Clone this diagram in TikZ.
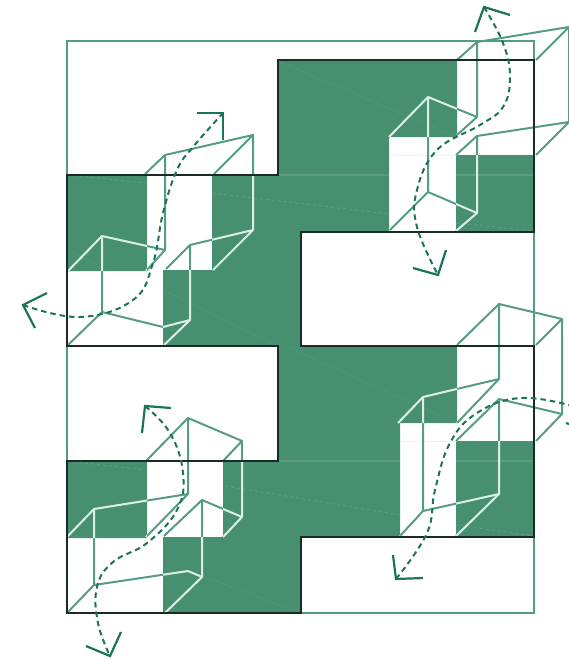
\documentclass[tikz,border=0pt]{standalone}
\usepackage{tikz}
\definecolor{leaf}{HTML}{46906F}
\definecolor{leafline}{HTML}{559C80}
\definecolor{leafpale}{HTML}{DCEDE5}
\definecolor{leafdark}{HTML}{1B7456}
\definecolor{edgeblack}{HTML}{1A2A24}
\newcommand{\floorplan}{(278,60) -- (534,60) -- (534,232) -- (301,232) -- (301,346) -- (534,346) -- (534,537) -- (301,537) -- (301,613) -- (67,613) -- (67,461) -- (278,461) -- (278,346) -- (67,346) -- (67,175) -- (278,175) -- cycle}
\newcommand{\openings}{
  (147,175) -- (212,175) -- (212,270) -- (163,270) -- (163,345) -- (67,345) -- (67,271) -- (147,271) -- cycle
  (457,60) -- (534,60) -- (534,155) -- (456,155) -- (456,231) -- (389,231) -- (389,137) -- (457,137) -- cycle
  (147,461) -- (223,461) -- (223,537) -- (163,537) -- (163,613) -- (67,613) -- (67,538) -- (147,538) -- cycle
  (457,346) -- (534,346) -- (534,441) -- (456,441) -- (456,536) -- (400,536) -- (400,423) -- (457,423) -- cycle}
\newcommand{\cubes}{
  (145,174) -- (165,155) -- (253,135) -- (214,174) (253,135) -- (253,230) -- (190,245) -- (166,269)
  (253,230) -- (213,270) (190,245) -- (190,320) -- (164,345) (165,155) -- (165,250) -- (102,236) -- (68,271)
  (165,250) -- (146,271) (102,236) -- (102,312) -- (68,345) (102,312) -- (163,327) -- (190,320)
  (457,60) -- (477,42) -- (569,27) -- (536,60) (569,27) -- (569,122) -- (477,136) -- (456,155)
  (569,122) -- (536,155) (477,136) -- (477,213) -- (456,231) (477,42) -- (477,117) -- (428,97) -- (389,137)
  (477,117) -- (457,135) (428,97) -- (428,192) -- (390,230) (428,192) -- (477,213)
  (146,461) -- (188,418) -- (242,441) -- (223,461) (242,441) -- (242,517) -- (202,500) -- (164,536)
  (242,517) -- (223,537) (202,500) -- (202,577) -- (165,613) (188,418) -- (188,494) -- (94,509) -- (67,537)
  (188,494) -- (146,537) (94,509) -- (94,585) -- (67,613) (94,585) -- (188,571) -- (202,577)
  (457,345) -- (499,304) -- (562,319) -- (536,345) (562,319) -- (562,414) -- (499,399) -- (456,441)
  (562,414) -- (536,441) (499,399) -- (499,494) -- (456,536) (499,304) -- (499,379) -- (423,397) -- (398,423)
  (499,379) -- (457,423) (423,397) -- (423,511) -- (400,536) (423,511) -- (499,494)}
\begin{document}
\begin{tikzpicture}[
  x=1pt,y=-1pt,
  frame/.style={draw=leafline,line width=2.2pt},
  outline/.style={draw=edgeblack,line width=2.2pt,line join=miter},
  wire/.style={draw=leafline,line width=2pt,line join=round},
  wirepale/.style={draw=leafpale,line width=2pt,line join=round},
  faint/.style={draw=white,opacity=.12,line width=1pt},
  route/.style={draw=leafdark,line width=2pt,dash pattern=on 5.5pt off 4pt},
  barb/.style={draw=leafdark,line width=2.2pt,line join=miter}
]
\useasboundingbox (0,0) rectangle (569,659);

\draw[frame] (67,41) rectangle (534,613);
\fill[leaf,even odd rule] \floorplan \openings;
\draw[wire] \cubes;

\begin{scope}[even odd rule]
\clip \floorplan \openings;
\draw[wirepale] \cubes;
\draw[faint,line width=1.5pt] (278,175) -- (534,175) (278,461) -- (534,461);
\draw[faint,dashed] (67,175) -- (146,183) (212,193) -- (389,214) (456,223) -- (534,231);
\draw[faint,dashed] (67,461) -- (146,470) (225,486) -- (400,515) (456,525) -- (534,536);
\draw[faint,dotted,opacity=.1] (280,62) -- (457,137) (285,346) -- (457,423) (67,250) -- (146,290) (163,290) -- (278,346) (200,575) -- (301,613);
\end{scope}

\draw[faint,draw=leafline,opacity=.12] (389,155) -- (534,155) (400,441) -- (534,441);
\draw[outline] \floorplan;

\draw[route] plot[smooth,tension=.7] coordinates {(23,305) (80,317) (133,300) (153,263) (163,213) (177,170) (193,147) (223,113)};
\draw[barb] (47,293) -- (23,305) -- (35,328);
\draw[barb] (197,113) -- (223,113) -- (223,140);

\draw[route] plot[smooth,tension=.7] coordinates {(484,7) (503,43) (510,77) (503,107) (480,125) (437,150) (417,190) (417,227) (438,275)};
\draw[barb] (510,15) -- (484,7) -- (475,32);
\draw[barb] (413,268) -- (438,275) -- (446,250);

\draw[route] plot[smooth,tension=.7] coordinates {(145,406) (170,433) (183,473) (177,510) (147,543) (113,562) (97,587) (98,623) (110,656)};
\draw[barb] (171,408) -- (145,406) -- (142,433);
\draw[barb] (86,646) -- (110,656) -- (121,632);

\draw[route] plot[smooth,tension=.7] coordinates {(396,579) (427,533) (435,490) (450,443) (477,413) (520,398) (569,405)};
\draw[barb] (423,578) -- (396,579) -- (393,555);
\draw[barb] (566,423) -- (569,424);
\end{tikzpicture}
\end{document}
